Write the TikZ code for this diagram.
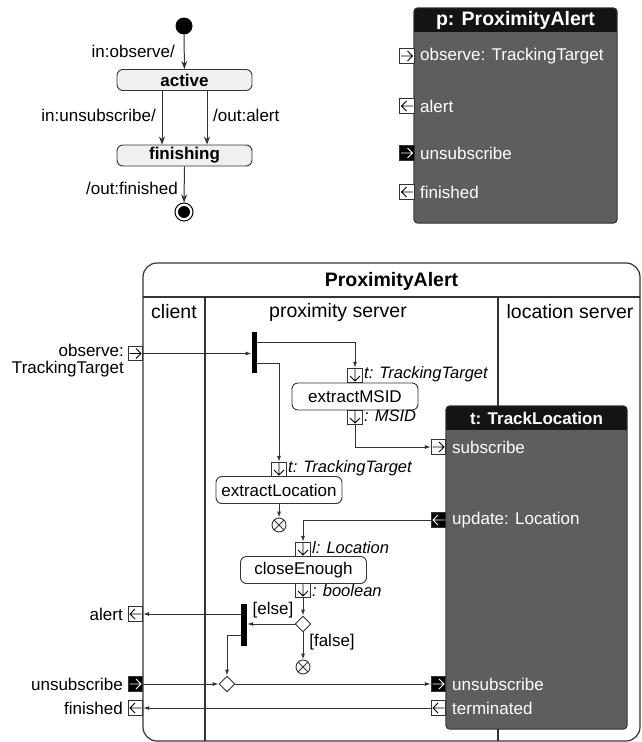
\documentclass[tikz,border=0pt]{standalone}
\usepackage{fontspec}
\setmainfont{Liberation Sans}
\usetikzlibrary{arrows.meta,shapes.geometric,calc}
\definecolor{boxgray}{HTML}{5E5E5E}
\definecolor{hdr}{HTML}{141414}
\definecolor{ln}{HTML}{333333}
\definecolor{stfill}{HTML}{F0F0F0}
\tikzset{
 lbl/.style={inner sep=0pt, font=\fontsize{17}{20}\selectfont},
 big/.style={inner sep=0pt, font=\fontsize{19.5}{22}\selectfont},
 bigb/.style={inner sep=0pt, font=\fontsize{19.5}{22}\selectfont\bfseries},
 ital/.style={inner sep=0pt, font=\fontsize{16.5}{20}\selectfont\itshape},
 wlbl/.style={lbl, text=white},
 st/.style={draw=ln, line width=0.9pt, fill=stfill, rounded corners=6pt, minimum width=135pt, minimum height=21pt, inner sep=0pt, font=\fontsize{17}{20}\selectfont\bfseries},
 act/.style={draw=ln, line width=0.9pt, fill=white, rounded corners=6pt, minimum width=126pt, minimum height=27pt, inner sep=0pt, font=\fontsize{17}{20}\selectfont},
 flow/.style={draw=ln, line width=0.9pt, -{Latex[length=6pt,width=4pt]}},
 smarrow/.style={draw=ln, line width=1pt, -{Stealth[length=8pt,width=6pt,inset=2.5pt]}},
 portbox/.style={draw=ln, line width=0.8pt, minimum size=14.5pt, inner sep=0pt},
 glyphR/.style={path picture={\coordinate (gc) at (path picture bounding box.center);
   \draw[line width=0.9pt,#1] ([xshift=-6pt]gc) -- ([xshift=5.5pt]gc) ([xshift=0.5pt,yshift=5pt]gc) -- ([xshift=5.5pt]gc) -- ([xshift=0.5pt,yshift=-5pt]gc);}},
 glyphL/.style={path picture={\coordinate (gc) at (path picture bounding box.center);
   \draw[line width=0.9pt,#1] ([xshift=6pt]gc) -- ([xshift=-5.5pt]gc) ([xshift=-0.5pt,yshift=5pt]gc) -- ([xshift=-5.5pt]gc) -- ([xshift=-0.5pt,yshift=-5pt]gc);}},
 glyphD/.style={path picture={\coordinate (gc) at (path picture bounding box.center);
   \draw[line width=0.9pt,#1] ([yshift=7.5pt]gc) -- ([yshift=-5.5pt]gc) ([xshift=-5pt,yshift=-0.5pt]gc) -- ([yshift=-5.5pt]gc) -- ([xshift=5pt,yshift=-0.5pt]gc);}},
 portInW/.style={portbox, fill=white, glyphR=black},
 portInK/.style={portbox, fill=black, glyphR=white},
 portOutW/.style={portbox, fill=white, glyphL=black},
 portOutK/.style={portbox, fill=black, glyphL=white},
 pinbox/.style={portbox, fill=white, glyphD=black},
 dec/.style={diamond, draw=ln, line width=0.9pt, fill=white, minimum width=16pt, minimum height=16pt, inner sep=0pt, aspect=1},
 ffin/.style={circle, draw=ln, line width=0.9pt, fill=white, minimum size=14pt, inner sep=0pt,
   path picture={\draw[line width=0.8pt] (path picture bounding box.north west) -- (path picture bounding box.south east) (path picture bounding box.north east) -- (path picture bounding box.south west);}},
 bar/.style={fill=black, minimum width=5.5pt, minimum height=41pt, inner sep=0pt},
 initst/.style={circle, fill=black, minimum size=17pt, inner sep=0pt},
 finst/.style={circle, draw=black, line width=1pt, fill=white, minimum size=18pt, inner sep=0pt,
   path picture={\fill[black] (path picture bounding box.center) circle (6pt);}},
}
\begin{document}
\begin{tikzpicture}[x=1pt,y=-1pt]
\useasboundingbox (0,0) rectangle (641,742);

% ---------- state machine ----------
\node[initst] (i0) at (184,26) {};
\node[st] (active) at (184.5,80) {active};
\node[st] (finishing) at (184.5,155.5) {finishing};
\node[finst] (f0) at (184,212) {};
\draw[smarrow] (i0) -- (active);
\draw[smarrow] ([xshift=-22.5pt]active.south) -- ([xshift=-22.5pt]finishing.north);
\draw[smarrow] ([xshift=22.5pt]active.south) -- ([xshift=22.5pt]finishing.north);
\draw[smarrow] (finishing) -- (f0);
\node[lbl, anchor=east] (lobs) at (175,51) {in:observe/};
\node[lbl, anchor=east] (lunsub) at (156,115) {in:unsubscribe/};
\node[lbl, anchor=west] (lalert) at (213,115) {/out:alert};
\node[lbl, anchor=east] (lfin) at (178,188) {/out:finished};

% ---------- p: ProximityAlert ----------
\node[fill=boxgray, rounded corners=4pt, minimum width=203pt, minimum height=215pt, inner sep=0pt] (pbox) at (515.5,115.5) {};
\begin{scope}
\clip[rounded corners=4pt] (pbox.north west) rectangle (pbox.south east);
\fill[hdr] (pbox.north west) rectangle ([yshift=-24pt]pbox.north east);
\end{scope}
\draw[ln, line width=1pt, rounded corners=4pt] (pbox.north west) rectangle (pbox.south east);
\node[bigb, text=white] (ptitle) at (515.5,20) {p: ProximityAlert};
\node[portInW] (pobs) at (407,56) {};
\node[portOutW] (palert) at (407,106) {};
\node[portInK] (punsub) at (407,153) {};
\node[portOutW] (pfin) at (407,192) {};
\node[wlbl, anchor=west] (pobsl) at (420,56) {observe: TrackingTarget};
\node[wlbl, anchor=west] (palertl) at (420,106) {alert};
\node[wlbl, anchor=west] (punsubl) at (420,153) {unsubscribe};
\node[wlbl, anchor=west] (pfinl) at (420,192) {finished};

% ---------- activity frame ----------
\node[draw=ln, line width=1.2pt, rounded corners=14pt, minimum width=497pt, minimum height=478pt, inner sep=0pt] (frame) at (391.5,502) {};
\draw[ln, line width=1.1pt] (143,297) -- (640,297);
\draw[ln, line width=1.1pt] (205,297) -- (205,741);
\draw[ln, line width=1.1pt] (498,297) -- (498,741);
\node[bigb] (ftitle) at (391.5,281) {ProximityAlert};
\node[big] (lclient) at (174,312) {client};
\node[big] (lprox) at (338,312) {proximity server};
\node[big] (lloc) at (570,312) {location server};

% t: TrackLocation
\node[fill=boxgray, rounded corners=4pt, minimum width=181pt, minimum height=323pt, inner sep=0pt] (tbox) at (536.5,567.5) {};
\begin{scope}
\clip[rounded corners=4pt] (tbox.north west) rectangle (tbox.south east);
\fill[hdr] (tbox.north west) rectangle ([yshift=-24pt]tbox.north east);
\end{scope}
\draw[ln, line width=1pt, rounded corners=4pt] (tbox.north west) rectangle (tbox.south east);
\node[lbl, font=\fontsize{17}{20}\selectfont\bfseries, text=white] (ttitle) at (536.5,418) {t: TrackLocation};
\node[portInW] (subp) at (438.5,447) {};
\node[portOutK] (updp) at (438.5,520) {};
\node[portInK] (unsubR) at (438.5,684) {};
\node[portOutW] (termp) at (438.5,708) {};
\node[wlbl, anchor=west] (subl) at (452,447) {subscribe};
\node[wlbl, anchor=west] (updl) at (452,520) {update: Location};
\node[wlbl, anchor=west] (unsubRl) at (452,684) {unsubscribe};
\node[wlbl, anchor=west] (terml) at (452,708) {terminated};

% frame ports (client side)
\node[portInW] (obsp) at (135.5,353.5) {};
\node[portOutW] (alertp) at (135.5,614) {};
\node[portInK] (unsubL) at (135.5,684) {};
\node[portOutW] (finp) at (135.5,708) {};
\node[lbl, anchor=north east, align=right] (obsl) at (124,344) {observe:\\[-3pt]TrackingTarget};
\node[lbl, anchor=east] (alertl) at (123,614) {alert};
\node[lbl, anchor=east] (unsubLl) at (123,684) {unsubscribe};
\node[lbl, anchor=east] (finl) at (123,708) {finished};

% actions and pins
\node[bar] (fork1) at (254.5,352.5) {};
\node[act] (xmsid) at (355,396.5) {extractMSID};
\node[pinbox] (pin1) at (355,375.5) {};
\node[pinbox] (pin2) at (355,417.5) {};
\node[ital, anchor=west] (pin1l) at (364,374) {t: TrackingTarget};
\node[ital, anchor=west] (pin2l) at (364,416) {: MSID};

\node[act] (xloc) at (279,490) {extractLocation};
\node[pinbox] (pin3) at (279,469.5) {};
\node[ital, anchor=west] (pin3l) at (288,468) {t: TrackingTarget};
\node[ffin] (ff1) at (279,525) {};

\node[act] (close) at (303.5,570) {closeEnough};
\node[pinbox] (pin4) at (303,549.5) {};
\node[pinbox] (pin5) at (303,590.5) {};
\node[ital, anchor=west] (pin4l) at (312,548) {l: Location};
\node[ital, anchor=west] (pin5l) at (312,591) {: boolean};

\node[dec] (dec1) at (303,624) {};
\node[ffin] (ff2) at (303,667) {};
\node[bar, minimum width=6pt, minimum height=42pt] (fork2) at (244,625) {};
\node[dec] (dec2) at (227,684) {};
\node[lbl] (lelse) at (273,610) {[else]};
\node[lbl] (lfalse) at (332,642) {[false]};

% flows
\draw[flow] (obsp.east) -- (obsp.east -| fork1.west);
\draw[flow] ([yshift=-11pt]fork1.north east) -| (pin1.north);
\draw[flow] ([yshift=10pt]fork1.south east) -| (pin3.north);
\draw[flow] (pin2.south) |- (subp.west);
\draw[flow] (xloc.south) -- (ff1.north);
\draw[flow] (updp.west) -| (pin4.north);
\draw[flow] (pin5.south) -- (dec1.north);
\draw[flow] (dec1.west) -- (dec1.west -| fork2.east);
\draw[flow] (dec1.south) -- (ff2.north);
\draw[flow] (alertp.east -| fork2.west) -- (alertp.east);
\draw[flow] ([yshift=11pt]fork2.south west) -| (dec2.north);
\draw[flow] (unsubL.east) -- (dec2.west);
\draw[flow] (dec2.east) -- (unsubR.west);
\draw[flow] (termp.west) -- (finp.east);
\end{tikzpicture}
\end{document}
